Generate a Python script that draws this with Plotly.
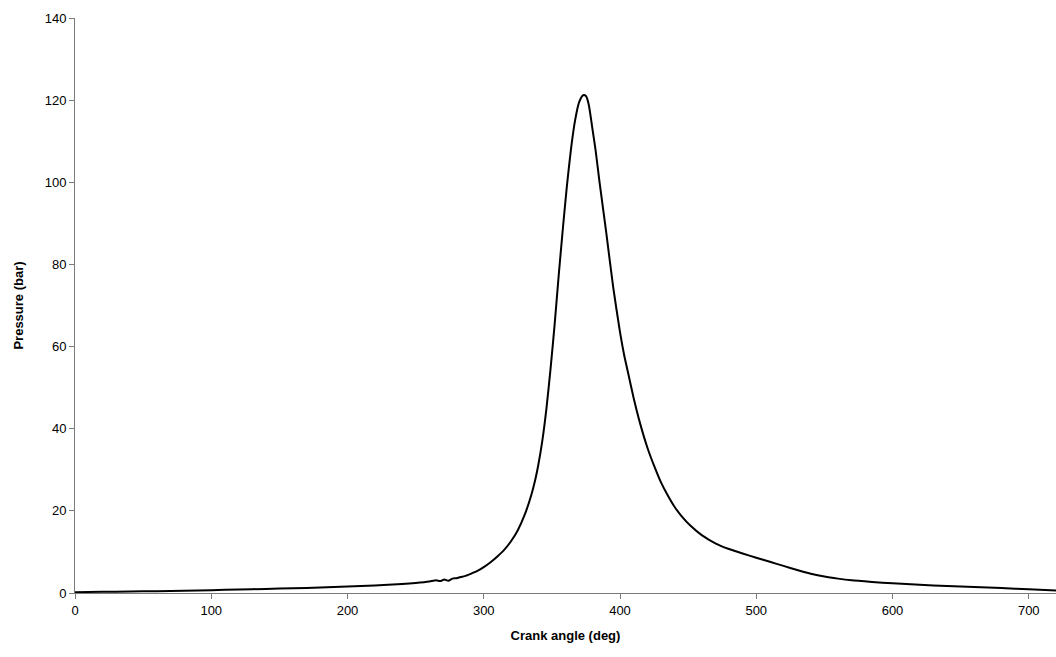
import plotly.graph_objects as go

crank_angle = [0, 20, 40, 60, 80, 100, 120, 140, 160, 180, 200, 220, 240, 250, 260,
               265, 268, 271, 274, 277, 280, 283, 286, 290, 295, 300, 305, 310, 315,
               320, 325, 330, 335, 338, 340, 343, 346, 349, 352, 355, 358, 361, 364,
               367, 370, 373, 375, 377, 380, 382, 385, 388, 390, 395, 400, 403, 406,
               410, 415, 420, 425, 430, 435, 440, 445, 452, 460, 470, 480, 490, 500,
               510, 520, 530, 540, 550, 560, 570, 585, 600, 620, 640, 660, 680, 700, 720]
pressure = [0.2, 0.3, 0.35, 0.45, 0.55, 0.7, 0.85, 1.0, 1.15, 1.35, 1.6, 1.85, 2.2, 2.45, 2.8,
            3.1, 2.9, 3.3, 3.0, 3.5, 3.6, 3.9, 4.1, 4.6, 5.3, 6.3, 7.5, 8.9, 10.5,
            12.6, 15.3, 19.0, 24.0, 27.9, 31.1, 37.1, 44.9, 54.5, 65.3, 77.3, 88.5, 99, 108,
            115, 119.5, 121.2, 121, 119, 112.5, 108, 100, 92.5, 87.5, 74.5, 63.5, 58, 53.5,
            47.5, 41, 35.5, 31, 27, 23.8, 21, 18.8, 16.3, 14.1, 12.1, 10.7, 9.6, 8.6,
            7.6, 6.6, 5.6, 4.7, 4.0, 3.5, 3.1, 2.7, 2.35, 2.0, 1.7, 1.45, 1.2, 0.9, 0.6]

x_ticks = [0, 100, 200, 300, 400, 500, 600, 700]
y_ticks = [0, 20, 40, 60, 80, 100, 120, 140]

fig = go.Figure()
fig.add_trace(go.Scatter(x=crank_angle, y=pressure, mode="lines",
                         line=dict(color="black", width=2, shape="spline", smoothing=0.6),
                         showlegend=False))

font_family = "Liberation Sans, Arial, sans-serif"
fig.update_layout(
    width=1056, height=657,
    margin=dict(l=75, r=0, t=18, b=64),
    paper_bgcolor="white", plot_bgcolor="white",
    font=dict(family=font_family, size=13, color="black"),
    xaxis=dict(range=[0, 720], tickvals=x_ticks, showgrid=False, zeroline=False,
               showline=True, linecolor="#7a7a7a", linewidth=1,
               ticks="outside", ticklen=5, tickcolor="#7a7a7a",
               tickfont=dict(size=13),
               title=dict(text="<b>Crank angle (deg)</b>", font=dict(size=13), standoff=14)),
    yaxis=dict(range=[0, 140], tickvals=y_ticks, showgrid=False, zeroline=False,
               showline=True, linecolor="#7a7a7a", linewidth=1,
               ticks="outside", ticklen=5, tickcolor="#7a7a7a",
               tickfont=dict(size=13),
               title=dict(text="<b>Pressure (bar)</b>", font=dict(size=13), standoff=18)),
)

fig.write_html("out.html")
